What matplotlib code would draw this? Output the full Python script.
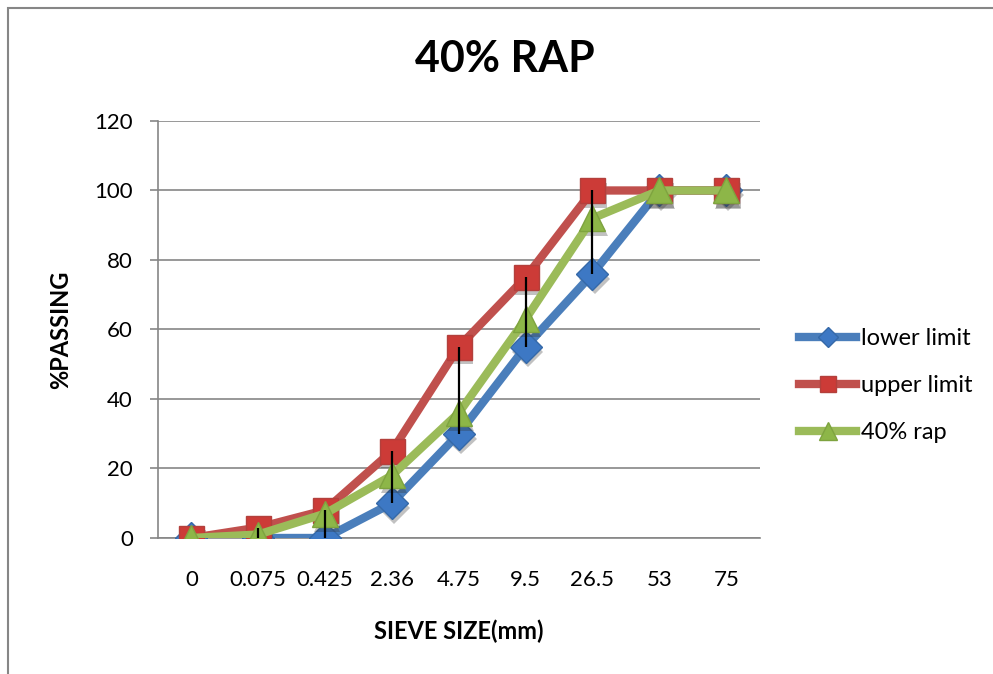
import numpy as np
import matplotlib
matplotlib.use('Agg')
import matplotlib.pyplot as plt
import matplotlib.patheffects as pe
from matplotlib.patches import Rectangle

plt.rcParams['font.family'] = ['Lato', 'DejaVu Sans']

sieve_sizes = ['0', '0.075', '0.425', '2.36', '4.75', '9.5', '26.5', '53', '75']
lower_limit = [0, 0, 0, 10, 30, 55, 76, 100, 100]
upper_limit = [0, 3, 8, 25, 55, 75, 100, 100, 100]
rap_40 = [0, 1, 7, 18, 36, 63, 92, 100, 100]

grey = '#868686'

fig = plt.figure(figsize=(9.93, 6.74), dpi=100)
ax = fig.add_axes([0.159, 0.2018, 0.606, 0.6187])

# chart area border
fig.patches.append(Rectangle((8 / 993, -0.1), 1.2, 1.1 - 8 / 674, transform=fig.transFigure,
                             fill=False, edgecolor=grey, lw=1.5, zorder=0))

x = np.arange(len(sieve_sizes))
shadow = [pe.SimplePatchShadow(offset=(1.5, -3.5), alpha=0.3, shadow_rgbFace='#333333')]

series = [
    (lower_limit, 'lower limit', '#4a7ebb', 'D', 16, '#3d78c4', '#3569a8'),
    (upper_limit, 'upper limit', '#c0504d', 's', 18, '#cc3b37', '#b3403c'),
    (rap_40, '40% rap', '#9bbb59', '^', 19, '#8db648', '#7ea33f'),
]
for i, (vals, name, col, mk, ms, fc, ec) in enumerate(series):
    z = 3 + i
    # soft drop shadow under the markers
    ax.plot(x, vals, ls='none', marker=mk, ms=ms, mfc='k', mec='none',
            zorder=z - 0.1, path_effects=shadow)
    ax.plot(x, vals, color=col, lw=6, marker=mk, ms=ms, mfc=fc, mec=ec, mew=1,
            label=name, zorder=z)

# high-low lines
data = np.array([lower_limit, upper_limit, rap_40])
ax.vlines(x, data.min(axis=0), data.max(axis=0), color='black', lw=1.6, zorder=6)

ax.set_xlim(-0.5, len(sieve_sizes) - 0.5)
ax.set_ylim(0, 120)
ax.set_yticks(range(0, 121, 20))
ax.set_xticks(x)
ax.set_xticklabels(sieve_sizes)
ax.yaxis.grid(True, color=grey, lw=1.2)
ax.set_axisbelow(True)
for s in ['top', 'right']:
    ax.spines[s].set_visible(False)
for s in ['left', 'bottom']:
    ax.spines[s].set_color(grey)
    ax.spines[s].set_linewidth(1.2)
ax.tick_params(axis='y', length=6, color=grey, width=1.2, pad=12, labelsize=16)
ax.tick_params(axis='x', length=0, pad=23, labelsize=16)

ax.set_xlabel('SIEVE SIZE(mm)', fontsize=17, fontweight='bold')
ax.set_ylabel('%PASSING', fontsize=17, fontweight='bold')
ax.xaxis.set_label_coords(0.5, -0.195)
ax.yaxis.set_label_coords(-0.143, 0.5)

fig.text(505 / 993, 1 - 59 / 674, '40% RAP', fontsize=31, fontweight='bold', ha='center', va='center')

ax.legend(loc='center left', bbox_to_anchor=(1.066, 0.365), frameon=False, fontsize=17,
          handlelength=2.4, labelspacing=1.1, handletextpad=0.2, markerscale=0.65,
          borderaxespad=0, borderpad=0)

fig.savefig('out.png', dpi=100)
